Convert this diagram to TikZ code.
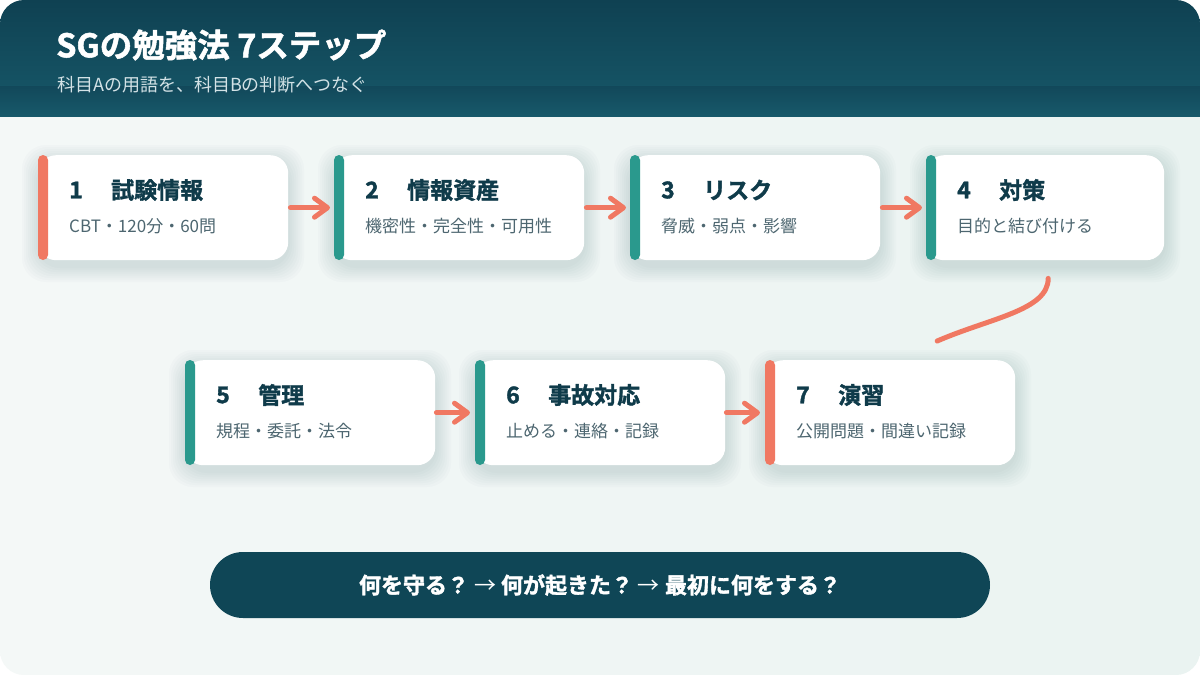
\documentclass[tikz,border=0pt]{standalone}
\usepackage{fontspec}
\setmainfont{Noto Sans CJK JP}[BoldFont={* Bold}]
\newfontfamily\heavyjp{Noto Sans CJK JP Bold}[FakeBold=1.6]
\usetikzlibrary{arrows.meta,calc}
\definecolor{hdtop}{HTML}{0F4152}
\definecolor{hdbot}{HTML}{17596A}
\definecolor{bandtop}{HTML}{12485A}
\definecolor{bgA}{HTML}{F4F8F7}
\definecolor{bgB}{HTML}{EAF3F1}
\definecolor{coral}{HTML}{F07862}
\definecolor{tealbar}{HTML}{2A998D}
\definecolor{ink}{HTML}{0F3B4A}
\definecolor{subink}{HTML}{4D6670}
\definecolor{pillc}{HTML}{0F4656}
\definecolor{subwhite}{HTML}{D3E2E6}
\definecolor{shadowc}{HTML}{557580}
\tikzset{
  cardbox/.style={fill=white, rounded corners=18pt, minimum height=105pt, inner sep=0pt, anchor=north west},
  numtxt/.style={text=ink, font=\heavyjp\fontsize{23}{27}\selectfont, inner sep=0pt, anchor=west},
  titletxt/.style={text=ink, font=\heavyjp\fontsize{23}{27}\selectfont, inner sep=0pt, anchor=west},
  subtxt/.style={text=subink, font=\fontsize{17}{20}\selectfont, inner sep=0pt, anchor=west},
  arr/.style={draw=coral, line width=5pt, line cap=round, -{Straight Barb[length=13pt, width=19pt, round]}},
  curvecon/.style={draw=coral, line width=5pt, line cap=round},
  pillbox/.style={fill=pillc, rounded corners=33pt, minimum width=780pt, minimum height=66pt, inner sep=0pt, text=white, font=\heavyjp\fontsize{22}{26}\selectfont},
}
\newcommand{\thinarrow}{{\normalfont\fontsize{22}{26}\selectfont →}}
\newcommand{\stepcard}[8]{%
  \foreach \k in {1,...,8}{
    \fill[shadowc, opacity=0.022, rounded corners=24pt] (#2-\k*2, #3+6-\k*2) rectangle (#2+#4+\k*2, #3+111+\k*2);
  }
  \node[cardbox, minimum width=#4] (#1) at (#2,#3) {};
  \fill[#5, rounded corners=5pt] (#2,#3) rectangle (#2+10,#3+105);
  \node[numtxt] (#1n) at ($(#1.north west)+(31,35)$) {#6};
  \node[titletxt] (#1t) at ($(#1.north west)+(73,35)$) {#7};
  \node[subtxt] (#1s) at ($(#1.north west)+(31,71)$) {#8};
}
\begin{document}
\begin{tikzpicture}[x=1pt, y=-1pt]
\useasboundingbox (0,0) rectangle (1200,675);
\fill[white] (0,0) rectangle (1200,675);
\begin{scope}
\clip[rounded corners=24pt] (0,0) rectangle (1200,675);
\shade[left color=bgA, right color=bgB] (0,0) rectangle (1200,675);
\shade[top color=hdtop, bottom color=hdbot] (0,0) rectangle (1200,116);
\shade[top color=bandtop, bottom color=hdbot] (0,86) rectangle (1200,116);
\end{scope}
\node[anchor=west, inner sep=0pt, text=white, font=\heavyjp\fontsize{32.5}{36}\selectfont] (title) at (56,45) {SGの勉強法 7ステップ};
\node[anchor=west, inner sep=0pt, text=subwhite, font=\fontsize{18}{21}\selectfont] (subtitle) at (57,85) {科目Aの用語を、科目Bの判断へつなぐ};

\stepcard{c1}{38}{155}{250}{coral}{1}{試験情報}{CBT・120分・60問}
\stepcard{c2}{334}{155}{250}{tealbar}{2}{情報資産}{機密性・完全性・可用性}
\stepcard{c3}{630}{155}{250}{tealbar}{3}{リスク}{脅威・弱点・影響}
\stepcard{c4}{926}{155}{238}{tealbar}{4}{対策}{目的と結び付ける}
\stepcard{c5}{185}{360}{250}{tealbar}{5}{管理}{規程・委託・法令}
\stepcard{c6}{475}{360}{250}{tealbar}{6}{事故対応}{止める・連絡・記録}
\stepcard{c7}{765}{360}{250}{coral}{7}{演習}{公開問題・間違い記録}

\draw[arr, shorten <=2pt, shorten >=4pt] (c1.east) -- (c2.west);
\draw[arr, shorten <=2pt, shorten >=4pt] (c2.east) -- (c3.west);
\draw[arr, shorten <=2pt, shorten >=4pt] (c3.east) -- (c4.west);
\draw[arr, shorten <=1pt, shorten >=5pt] (c5.east) -- (c6.west);
\draw[arr, shorten <=1pt, shorten >=5pt] (c6.east) -- (c7.west);

\coordinate (cs) at ($(c4.south)+(3,18)$);
\coordinate (ce) at ($(c7.north)+(47,-19)$);
\draw[curvecon] (cs) .. controls ($(cs)+(0,32)$) and ($(ce)+(53,-23)$) .. (ce);

\node[pillbox] (q) at (600,585) {何を守る？ \thinarrow{} 何が起きた？ \thinarrow{} 最初に何をする？};
\end{tikzpicture}
\end{document}
